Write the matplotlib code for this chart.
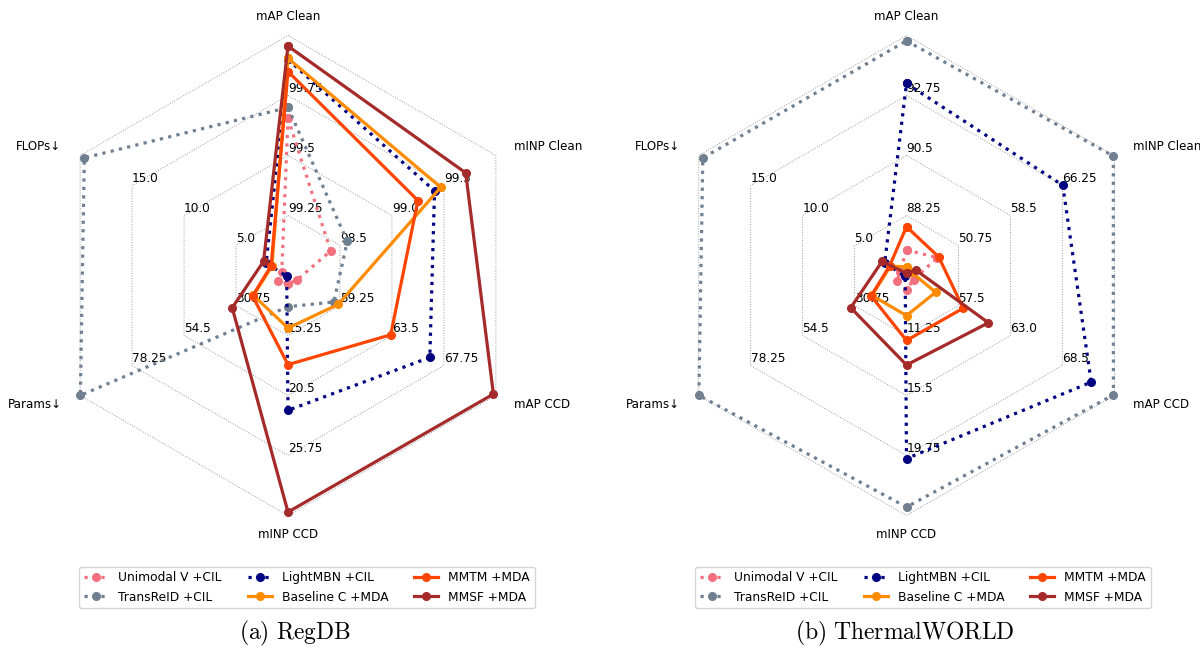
import numpy as np
import matplotlib
matplotlib.use("Agg")
import matplotlib.pyplot as plt

plt.rcParams['mathtext.fontset'] = 'cm'
plt.rcParams['font.family'] = ['DejaVu Sans']

# ---------------- data ----------------
categories = ["mAP Clean", "mINP Clean", "mAP CCD", "mINP CCD", "Params↓", "FLOPs↓"]
methods = ["Unimodal V +CIL", "TransReID +CIL", "LightMBN +CIL",
           "Baseline C +MDA", "MMTM +MDA", "MMSF +MDA"]
colors = ["#F3717F", "#708090", "#000080", "#FF8C00", "#FF4500", "#A52A2A"]
linestyles = [":", ":", ":", "-", "-", "-"]

# axis ranges (min, max) for each category
regdb_ranges = [(99.0, 100.0), (98.0, 100.0), (55.0, 72.0), (10.0, 31.0), (7.0, 102.0), (0.0, 20.0)]
thermal_ranges = [(86.0, 95.0), (43.0, 74.0), (52.0, 74.0), (7.0, 24.0), (7.0, 102.0), (0.0, 20.0)]

# RegDB values: mAP Clean, mINP Clean, mAP CCD, mINP CCD, Params, FLOPs
regdb_unimodal = [99.655, 98.41, 55.7, 10.7, 11.4, 0.6]
regdb_transreid = [99.70, 98.57, 58.75, 12.73, 101.9, 19.6]
regdb_lightmbn = [99.90, 99.41, 66.6, 21.8, 7.6, 2.1]
regdb_baseline = [99.905, 99.47, 59.1, 14.6, 22.8, 1.55]
regdb_mmtm = [99.85, 99.25, 63.4, 17.8, 23.2, 1.62]
regdb_mmsf = [99.956, 99.71, 71.8, 30.7, 32.5, 2.35]

# ThermalWORLD values
thermal_unimodal = [86.96, 47.6, 52.75, 8.0, 11.4, 0.6]
thermal_transreid = [94.8, 73.85, 73.9, 23.4, 101.9, 19.6]
thermal_lightmbn = [93.2, 66.3, 71.55, 19.97, 7.6, 2.1]
thermal_baseline = [86.33, 43.8, 55.08, 9.84, 22.8, 1.55]
thermal_mmtm = [87.83, 47.8, 58.0, 11.6, 23.2, 1.62]
thermal_mmsf = [86.08, 44.4, 60.67, 13.34, 32.5, 2.35]

regdb_series = [regdb_unimodal, regdb_transreid, regdb_lightmbn,
                regdb_baseline, regdb_mmtm, regdb_mmsf]
thermal_series = [thermal_unimodal, thermal_transreid, thermal_lightmbn,
                  thermal_baseline, thermal_mmtm, thermal_mmsf]

PX = 0.72  # points per pixel at dpi 100


def fmt(v):
    return str(float(round(v, 2)))


def radar(ax, ranges, series):
    n = len(categories)
    theta = np.linspace(0, 2 * np.pi, n, endpoint=False)
    ax.set_theta_offset(np.pi / 2)
    ax.set_theta_direction(-1)
    ax.set_ylim(0, 1)
    ax.set_xticks([])
    ax.set_yticks([])
    ax.grid(False)
    ax.spines['polar'].set_visible(False)
    ax.patch.set_visible(False)
    tclosed = np.append(theta, theta[0])
    # hexagonal grid rings and per-axis labels
    for k in range(1, 5):
        rr = k / 4
        ax.plot(tclosed, [rr] * (n + 1), ls=':', color='#9a9a9a', lw=0.7,
                zorder=1, clip_on=False)
        if k < 4:
            for i, (lo, hi) in enumerate(ranges):
                val = lo + (hi - lo) * rr
                ax.annotate(fmt(val), xy=(theta[i], rr), xytext=(0, 0.5),
                            textcoords='offset points', ha='left', va='bottom',
                            fontsize=8.7, zorder=3)
    # category labels
    for i, cat in enumerate(categories):
        sx, sy = np.sin(theta[i]), np.cos(theta[i])
        if abs(sx) < 0.01:
            off = (0, 18.5 * np.sign(sy) * PX)
            ha = 'center'
        else:
            off = (18.6 * np.sign(sx) * PX, 8.7 * np.sign(sy) * PX)
            ha = 'left' if sx > 0 else 'right'
        ax.annotate(cat, xy=(theta[i], 1.0), xytext=off, textcoords='offset points',
                    ha=ha, va='center', fontsize=8.6)
    # data
    for vals, name, c, ls in zip(series, methods, colors, linestyles):
        r = [(v - lo) / (hi - lo) for v, (lo, hi) in zip(vals, ranges)]
        r = np.append(r, r[0])
        ax.plot(tclosed, r, ls=ls, color=c, lw=2.3, marker='o', markersize=5.5,
                label=name, zorder=4, clip_on=False)


fig = plt.figure(figsize=(12, 6.57), dpi=100)
W, H = 1200, 657
R = 240
for cx, ranges, series, cap, lcx, capx in [
        (288, regdb_ranges, regdb_series, r'$\mathrm{(a)\ RegDB}$', 307, 295),
        (906.5, thermal_ranges, thermal_series, r'$\mathrm{(b)\ ThermalWORLD}$', 923, 905)]:
    cy = 275.5
    ax = fig.add_axes([(cx - R) / W, (H - cy - R) / H, 2 * R / W, 2 * R / H],
                      projection='polar')
    radar(ax, ranges, series)
    h, l = ax.get_legend_handles_labels()
    fig.legend(h, l, ncol=3, loc='center', bbox_to_anchor=(lcx / W, 1 - 587.5 / H),
               fontsize=8.8, handlelength=2.0, columnspacing=2.1)
    fig.text(capx / W, 1 - 633 / H, cap, ha='center', va='center', fontsize=17)

fig.savefig('out.png', dpi=100)
